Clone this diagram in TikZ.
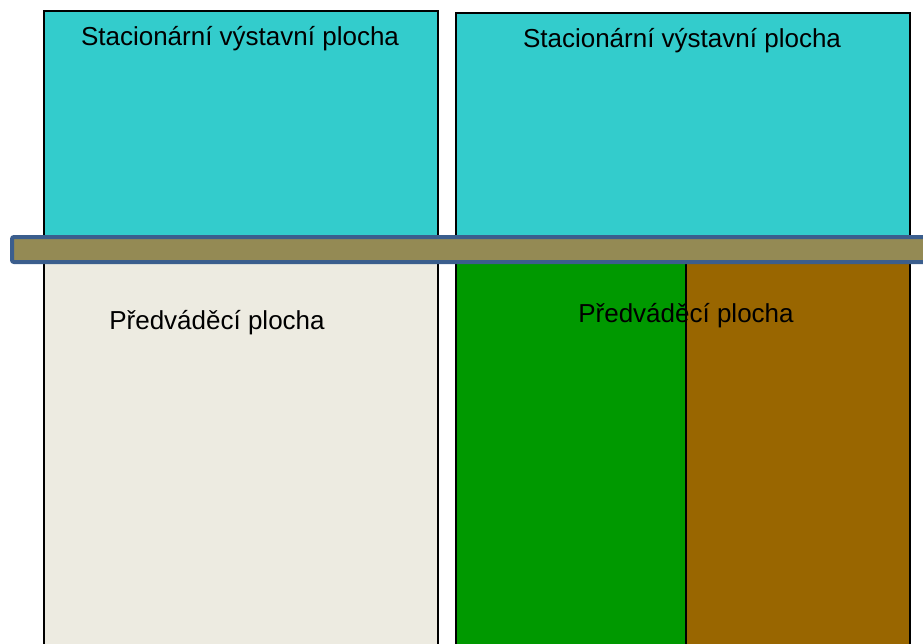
\documentclass[tikz,border=0pt]{standalone}
\usepackage{fontspec}
\setmainfont{Liberation Sans}
\usepackage{tikz}
\usetikzlibrary{positioning}
\definecolor{stacfill}{HTML}{33CCCC}
\definecolor{predfill}{HTML}{EDEBE1}
\definecolor{zelena}{HTML}{009900}
\definecolor{hneda}{HTML}{996600}
\definecolor{nosnikfill}{HTML}{948A54}
\definecolor{nosnikdraw}{HTML}{3B5E8D}
\tikzset{
  plocha/.style={draw=black, line width=1.5pt, inner sep=0pt, anchor=north west},
  nosnik/.style={draw=nosnikdraw, fill=nosnikfill, line width=4pt, rounded corners=2pt, inner sep=0pt, anchor=west},
  popis/.style={font=\fontsize{26}{30}\selectfont, inner sep=0pt}
}

\begin{document}
\begin{tikzpicture}[x=1pt, y=-1pt]
	\useasboundingbox (0,0) rectangle (923,643);
	\clip (0,0) rectangle (923,643);
	% stacionarni plochy
	\node[plocha, fill=stacfill, minimum width=394pt, minimum height=240pt] (stac1) at (43,10) {};
	\node[plocha, fill=stacfill, minimum width=454pt, minimum height=238pt] (stac2) at (455,12) {};
	% predvadeci plochy
	\node[plocha, fill=predfill, minimum width=394pt, minimum height=420pt] (pred1) at (43,250) {};
	\node[plocha, fill=zelena, minimum width=230pt, minimum height=420pt] (pred2a) at (455,250) {};
	\node[plocha, fill=hneda, minimum width=224pt, minimum height=420pt] (pred2b) at (685,250) {};
	% nosnik
	\node[nosnik, minimum width=940pt, minimum height=25pt] (nosnik) at (10,249.5) {};

	\node[popis] (stac1-text) at (240,39) {Stacionární výstavní plocha};
	\node[popis] (stac2-text) at (682,41) {Stacionární výstavní plocha};
	\node[popis] (pred1-text) at (217,323) {Předváděcí plocha};
	\node[popis] (pred2-text) at (686,316) {Předváděcí plocha};
\end{tikzpicture}
\end{document}
